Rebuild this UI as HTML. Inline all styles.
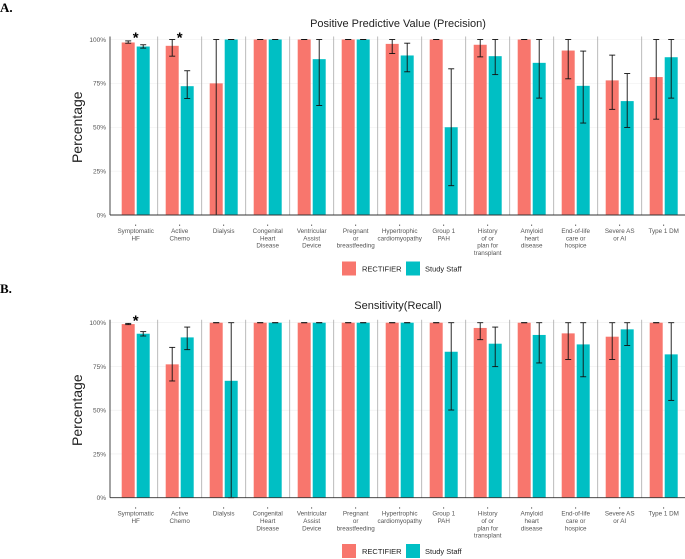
<!DOCTYPE html>
<html><head><meta charset="utf-8"><style>
html,body{margin:0;padding:0;background:#fff;}
svg{display:block;font-family:"Liberation Sans",sans-serif;}
</style></head><body>
<svg id="chart" width="685" height="559" viewBox="0 0 685 559" xmlns="http://www.w3.org/2000/svg"></svg>
<script>
const categories = [["Symptomatic","HF"],["Active","Chemo"],["Dialysis"],["Congenital","Heart","Disease"],["Ventricular","Assist","Device"],["Pregnant","or","breastfeeding"],["Hypertrophic","cardiomyopathy"],["Group 1","PAH"],["History","of or","plan for","transplant"],["Amyloid","heart","disease"],["End-of-life","care or","hospice"],["Severe AS","or AI"],["Type 1 DM"]];
const seriesNames = ["RECTIFIER","Study Staff"];
const yTicks = [0,25,50,75,100];
const yTickLabels = ["0%","25%","50%","75%","100%"];
// Panel A: PPV
const ppvRect = [98.3,96.4,75,100,100,100,97.5,100,97,100,93.7,76.7,78.6];
const ppvRectLo = [97.9,90.5,0,100,100,100,92,100,90.1,100,77.6,60.2,54.6];
const ppvRectHi = [99.2,100,100,100,100,100,100,100,100,100,100,91.1,100];
const ppvStaff = [96.0,73.4,100,100,88.8,100,90.9,50,90.5,86.7,73.6,64.9,89.9];
const ppvStaffLo = [95.1,66.4,100,100,62.4,100,81.6,16.7,80,66.6,52.4,49.9,66.6];
const ppvStaffHi = [97.0,82.2,100,100,100,100,97.9,83.3,100,100,93.4,80.6,100];
const ppvStars = [1,1,0,0,0,0,0,0,0,0,0,0,0];
// Panel B: Sensitivity
const senRect = [99.2,76.2,100,100,100,100,100,100,97,100,93.9,92,100];
const senRectLo = [98.9,66.7,100,100,100,100,100,100,90.3,100,79,79,100];
const senRectHi = [99.6,85.9,100,100,100,100,100,100,100,100,100,100,100];
const senStaff = [93.7,91.6,66.8,100,100,100,100,83.4,88,93,87.6,96.2,81.9];
const senStaffLo = [92.4,84.6,0,100,100,100,100,50.1,74.9,77,69.1,87,55.6];
const senStaffHi = [94.9,97.5,100,100,100,100,100,100,97.5,100,100,100,100];
const senStars = [1,0,0,0,0,0,0,0,0,0,0,0,0];

const NS="http://www.w3.org/2000/svg";
const svg=document.getElementById('chart');
function mk(tag,attrs,parent){const e=document.createElementNS(NS,tag);for(const k in attrs)e.setAttribute(k,attrs[k]);(parent||svg).appendChild(e);return e;}
const COL=["#F8766D","#00BFC4"];
const plotLeft=110, panelStart=113.7, panelW=44;

function drawPanel(p){
  const g=mk('g',{});
  
  
  const y=v=>p.y0-(v/100)*(p.y0-p.y100);
  const xc=i=>panelStart+panelW*i+panelW/2;
  const lab=mk('text',{x:0,y:p.labelY,'font-family':'"Liberation Serif",serif','font-weight':'bold','font-size':13,fill:'#000'},g);
  lab.textContent=p.letter;
  
  
  const t=mk('text',{x:p.titleX,y:p.titleY,'text-anchor':'middle','font-size':11,fill:'#222'},g);
  t.textContent=p.title;
  
  
  yTicks.forEach((v,k)=>{
    const gl=mk('line',{x1:plotLeft,x2:685,y1:y(v),y2:y(v),stroke:'#eeeeee','stroke-width':0.6},g);
    
    
    const tl=mk('text',{x:106,y:y(v)+2.3,'text-anchor':'end','font-size':6.5,fill:'#555'},g);
    tl.textContent=yTickLabels[k];
    
    
  });
  for(let i=1;i<categories.length;i++){
    const s=mk('line',{x1:panelStart+panelW*i,x2:panelStart+panelW*i,y1:p.y100-3,y2:p.y0,stroke:'#aaaaaa','stroke-width':0.8},g);
    
    
  }
  const yl=mk('text',{x:0,y:0,transform:`translate(82,${(p.y0+p.y100)/2}) rotate(-90)`,'text-anchor':'middle','font-size':14,fill:'#222'},g);
  yl.textContent='Percentage';
  
  
  const vals=[p.r,p.s],los=[p.rl,p.sl],his=[p.rh,p.sh];
  categories.forEach((c,i)=>{
    const cx=xc(i);
    for(let s=0;s<2;s++){
      const x0=s===0?cx-14:cx+1;
      const b=mk('rect',{x:x0,y:y(vals[s][i]),width:13,height:p.y0-y(vals[s][i]),fill:COL[s]},g);
      
      
    }
    for(let s=0;s<2;s++){
      const ex=s===0?cx-7.5:cx+7.5;
      const eg=mk('g',{stroke:'#111','stroke-width':0.9},g);
      
      
      mk('line',{x1:ex,x2:ex,y1:y(los[s][i]),y2:y(his[s][i])},eg);
      mk('line',{x1:ex-3,x2:ex+3,y1:y(los[s][i]),y2:y(los[s][i])},eg);
      mk('line',{x1:ex-3,x2:ex+3,y1:y(his[s][i]),y2:y(his[s][i])},eg);
    }
    if(p.stars[i]){
      const st=mk('text',{x:cx,y:p.y100+3,'text-anchor':'middle','font-size':15,'font-weight':'bold',fill:'#000'},g);
      st.textContent='*';
      
      
    }
    mk('line',{x1:cx,x2:cx,y1:p.y0+9.5,y2:p.y0+11,stroke:'#444','stroke-width':0.8},g);
    const tx=mk('text',{'text-anchor':'middle','font-size':6.3,fill:'#555'},g);
    
    
    c.forEach((ln,k)=>{const ts=mk('tspan',{x:cx,y:p.y0+18+k*7.3},tx);ts.textContent=ln;});
  });
  const ax=mk('line',{x1:plotLeft,x2:plotLeft,y1:p.y100-3,y2:p.y0,stroke:'#333','stroke-width':0.9},g);
  
  
  const bx=mk('line',{x1:plotLeft,x2:685,y1:p.y0,y2:p.y0,stroke:'#333','stroke-width':0.9},g);
  
  
  const lg=mk('g',{},g);
  
  
  const sx=[342,406],tx2=[362,425];
  seriesNames.forEach((n,s)=>{
    const e=mk('g',{},lg);
    
    
    mk('rect',{x:sx[s],y:p.legendY,width:14,height:14,fill:COL[s]},e);
    const lt=mk('text',{x:tx2[s],y:p.legendY+10,'font-size':7.5,fill:'#222'},e);
    lt.textContent=n;
  });
}
drawPanel({name:'panel-a-ppv',letter:'A.',labelY:12,title:'Positive Predictive Value (Precision)',titleX:398,titleY:27,y0:215,y100:39.5,r:ppvRect,rl:ppvRectLo,rh:ppvRectHi,s:ppvStaff,sl:ppvStaffLo,sh:ppvStaffHi,stars:ppvStars,legendY:261.5});
drawPanel({name:'panel-b-sensitivity',letter:'B.',labelY:293,title:'Sensitivity(Recall)',titleX:398,titleY:309,y0:497.7,y100:322.7,r:senRect,rl:senRectLo,rh:senRectHi,s:senStaff,sl:senStaffLo,sh:senStaffHi,stars:senStars,legendY:544});
</script>
</body></html>
